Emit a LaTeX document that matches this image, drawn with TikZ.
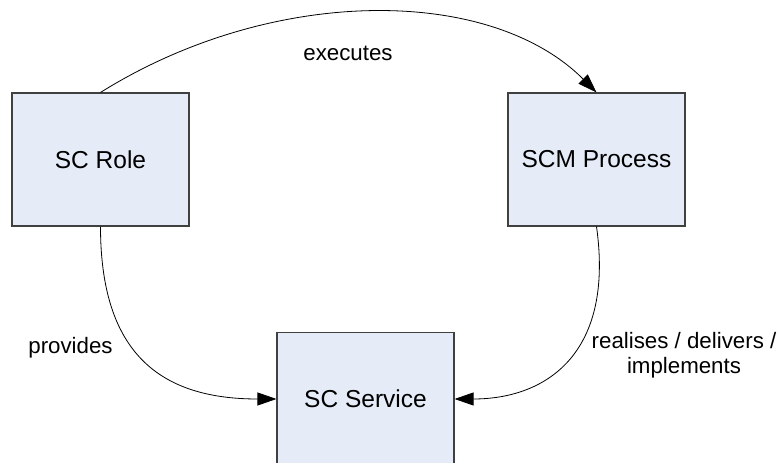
\documentclass[tikz,border=0pt]{standalone}
\usepackage{fontspec}
\setmainfont{Liberation Sans}
\usetikzlibrary{arrows.meta}
\definecolor{boxfill}{RGB}{230,236,247}
\definecolor{boxline}{RGB}{64,64,64}
\tikzset{
  block/.style={draw=boxline, line width=1.1pt, fill=boxfill, minimum width=177pt, minimum height=133pt, inner sep=0pt, font=\fontsize{24.5}{29}\selectfont},
  conn/.style={draw=black, line width=0.8pt, -{Triangle[length=19pt,width=13pt]}},
  elabel/.style={font=\fontsize{22.3}{24.5}\selectfont, align=center, inner sep=0pt}
}
\begin{document}
\begin{tikzpicture}[x=1pt,y=1pt]
\useasboundingbox (0,0) rectangle (779,463);
\node[block] (role) at (100.5,303.5) {SC Role};
\node[block] (proc) at (596.5,303.5) {SCM Process};
\node[block] (serv) at (365.5,64) {SC Service};
\draw[conn] (role.north) to[out=32,in=135,out distance=202pt,in distance=151pt] (proc.north);
\draw[conn] (role.south) to[out=-90,in=180,out distance=125pt,in distance=118pt] (serv.west);
\draw[conn] (proc.south) to[out=-82,in=0,out distance=130pt,in distance=90pt] (serv.east);
\node[elabel] (lexec) at (348,410) {executes};
\node[elabel] (lprov) at (70.5,115) {provides};
\node[elabel] (lreal) at (684,108) {realises / delivers /\\implements};
\end{tikzpicture}
\end{document}
